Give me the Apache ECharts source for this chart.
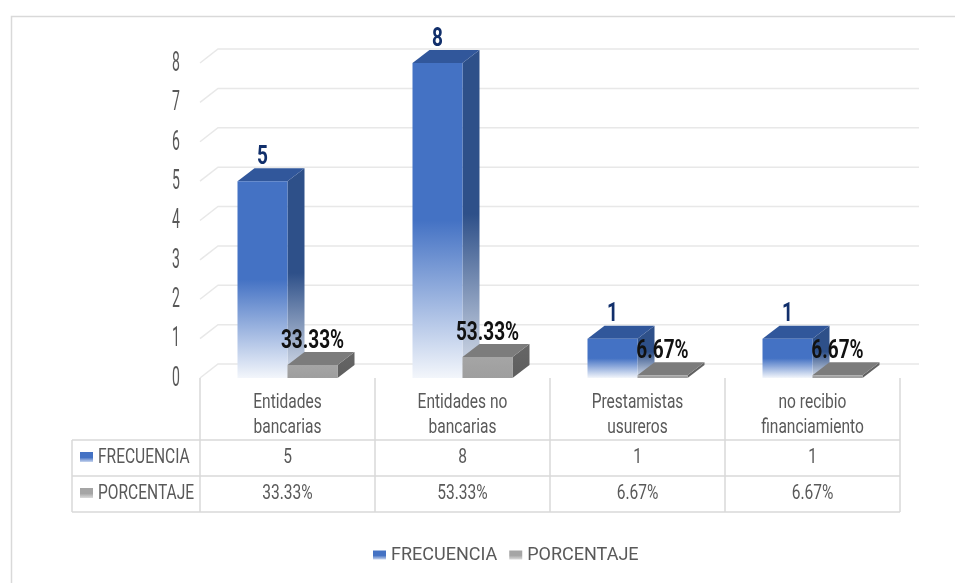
<!DOCTYPE html>
<html>
<head>
<meta charset="utf-8">
<script src="https://cdn.jsdelivr.net/npm/echarts@6/dist/echarts.min.js"></script>
<style>
  html, body { margin: 0; padding: 0; background: #ffffff; }
  #chart { width: 955px; height: 583px; }
</style>
</head>
<body>
<div id="chart"></div>
<script>
// Financing sources: frequency and share of respondents
const categories = ['Entidades bancarias', 'Entidades no bancarias', 'Prestamistas usureros', 'no recibio financiamiento'];
const frecuencia = [5, 8, 1, 1];
const porcentaje = [0.3333, 0.5333, 0.0667, 0.0667];
const seriesNames = ['FRECUENCIA', 'PORCENTAJE'];
const yTicks = [0, 1, 2, 3, 4, 5, 6, 7, 8];

const FONT = "Roboto,'Liberation Sans',sans-serif";
const TEXT = '#595959';
const LINE = '#D9D9D9';
const GRID_LINE = '#E8E8E8';
const DEPTH = [17, -13];     // extrusion of each column
const WALL = [18, -14];      // offset of the back wall
const BAR_RATIO = 50 / 175;  // column width as a share of the category band
const NARROW = 0.74;         // horizontal squeeze for the condensed lettering

const pct = v => (v * 100).toFixed(2) + '%';
const grad = stops => new echarts.graphic.LinearGradient(0, 0, 0, 1,
  stops.map(([offset, color]) => ({ offset, color })));
// two-line category captions, split at the last space
const wrap = s => { const k = s.lastIndexOf(' '); return k < 0 ? s : s.slice(0, k) + '\n' + s.slice(k + 1); };

const look = {
  FRECUENCIA: {
    front: [[0, '#4472C4'], [0.5, '#4472C4'], [1, '#F3F6FB']],
    side: [[0, '#2E5089'], [0.5, '#2E5089'], [1, '#DDE3ED']],
    top: '#31579B',
    label: '#112F6B',
    key: [[0, '#4472C4'], [0.55, '#4472C4'], [1, '#C8D5EE']],
    fmt: v => String(v)
  },
  PORCENTAJE: {
    front: [[0, '#A5A5A5'], [1, '#9E9E9E']],
    side: [[0, '#666666'], [1, '#5E5E5E']],
    top: '#7C7C7C',
    label: '#111111',
    key: [[0, '#A5A5A5'], [0.55, '#A5A5A5'], [1, '#DADADA']],
    fmt: pct
  }
};

const txt = (x, y, s, extra, sx) => ({
  type: 'text', x, y, scaleX: sx || NARROW,
  style: Object.assign({ text: s, fill: TEXT, font: `21px ${FONT}`, align: 'center', verticalAlign: 'middle', lineHeight: 25 }, extra || {})
});
const line = pts => ({ type: 'polyline', shape: { points: pts }, style: { stroke: LINE, lineWidth: 1.5, fill: null } });

// 3D-looking column: side face, top face, front face and value label
function boxRenderer(name, slot) {
  const p = look[name];
  return function (params, api) {
    const idx = api.value(0), val = api.value(1);
    const base = api.coord([idx, 0]);
    const topPt = api.coord([idx, val]);
    const band = api.size([1, 0])[0];
    const w = band * BAR_RATIO;
    const x0 = base[0] + (slot === 0 ? -w : 0);
    const x1 = x0 + w;
    const yb = base[1], yt = topPt[1];
    const dx = DEPTH[0], dy = DEPTH[1];
    return {
      type: 'group',
      children: [
        { type: 'polygon', shape: { points: [[x1, yt], [x1 + dx, yt + dy], [x1 + dx, yb + dy], [x1, yb]] }, style: { fill: grad(p.side) } },
        { type: 'polygon', shape: { points: [[x0, yt], [x0 + dx, yt + dy], [x1 + dx, yt + dy], [x1, yt]] }, style: { fill: p.top } },
        { type: 'rect', shape: { x: x0, y: yt, width: w, height: yb - yt }, style: { fill: grad(p.front) } },
        txt((x0 + x1) / 2, yt - 11, p.fmt(val), { fill: p.label, font: `bold 25px ${FONT}`, verticalAlign: 'bottom', lineHeight: 25 }, 0.76)
      ]
    };
  };
}

// Gridlines bent onto the side wall and back wall, with the value ticks
function gridRenderer(params, api) {
  const cs = params.coordSys;
  const v = api.value(1);
  const y = api.coord([0, v])[1];
  const xl = cs.x, xr = cs.x + cs.width;
  return {
    type: 'group',
    children: [
      {
        type: 'polyline',
        shape: { points: [[xl, y], [xl + WALL[0], y + WALL[1]], [xr + WALL[0] + 1, y + WALL[1]]] },
        style: { stroke: GRID_LINE, lineWidth: 1.5, fill: null }
      },
      txt(xl - 20, y + 1, String(v), { font: `27px ${FONT}`, align: 'right', lineHeight: 28 }, 0.52)
    ]
  };
}

// Data table under the plot
function tableRenderer(params, api) {
  const i = api.value(0);
  const band = api.size([1, 0])[0];
  const pt = api.coord([i, 0]);
  const cx = pt[0], y0 = pt[1];
  const xl = cx - band / 2, xr = cx + band / 2;
  const r1 = y0 + 62, r2 = r1 + 36, r3 = r2 + 36;
  const ch = [
    line([[xl, y0], [xl, r3]]),
    line([[xl, r1], [xr, r1]]), line([[xl, r2], [xr, r2]]), line([[xl, r3], [xr, r3]]),
    txt(cx, (y0 + r1) / 2 + 6, wrap(categories[i])),
    txt(cx, (r1 + r2) / 2, String(frecuencia[i])),
    txt(cx, (r2 + r3) / 2, pct(porcentaje[i]))
  ];
  if (i === categories.length - 1) ch.push(line([[xr, y0], [xr, r3]]));
  if (i === 0) {
    const hx = xl - 128;
    ch.push(line([[hx, r1], [xl, r1]]), line([[hx, r2], [xl, r2]]), line([[hx, r3], [xl, r3]]), line([[hx, r1], [hx, r3]]));
    seriesNames.forEach((n, k) => {
      const yc = (k === 0 ? (r1 + r2) / 2 : (r2 + r3) / 2);
      ch.push({ type: 'rect', shape: { x: hx + 8, y: yc - 6, width: 13, height: 10 }, style: { fill: grad(look[n].key) } });
      ch.push(txt(hx + 26, yc, n, { align: 'left' }));
    });
  }
  return { type: 'group', children: ch };
}

const chart = echarts.init(document.getElementById('chart'), null, { renderer: 'canvas' });

chart.setOption({
  animation: false,
  backgroundColor: '#ffffff',
  graphic: [{
    type: 'rect', left: 9, top: 14, silent: true,
    shape: { x: 0, y: 0, width: 960, height: 600 },
    style: { fill: null, stroke: '#D9D9D9', lineWidth: 1.5 }
  }],
  grid: { left: 200, right: 55, top: 63, bottom: 205, outerBoundsMode: 'none' },
  legend: {
    data: seriesNames.map(n => ({ name: n, icon: 'rect' })),
    left: 368, top: 541,
    itemWidth: 13, itemHeight: 9, itemGap: 12,
    textStyle: { fontFamily: FONT, fontSize: 18, color: TEXT }
  },
  xAxis: {
    type: 'category',
    data: categories,
    axisLine: { show: false },
    axisTick: { show: false },
    axisLabel: { show: false }
  },
  yAxis: {
    type: 'value', min: 0, max: 8, interval: 1,
    axisLine: { show: false },
    axisTick: { show: false },
    splitLine: { show: false },
    axisLabel: { show: false }
  },
  series: [
    {
      type: 'custom', name: '_grid', z: 1, silent: true,
      renderItem: gridRenderer,
      data: yTicks.map(v => [0, v])
    },
    {
      type: 'custom', name: '_table', z: 1, silent: true,
      renderItem: tableRenderer,
      data: categories.map((c, i) => [i, 0])
    },
    {
      type: 'custom', name: seriesNames[0], z: 2,
      itemStyle: { color: grad(look.FRECUENCIA.key) },
      renderItem: boxRenderer('FRECUENCIA', 0),
      data: frecuencia.map((v, i) => [i, v])
    },
    {
      type: 'custom', name: seriesNames[1], z: 3,
      itemStyle: { color: grad(look.PORCENTAJE.key) },
      renderItem: boxRenderer('PORCENTAJE', 1),
      data: porcentaje.map((v, i) => [i, v])
    }
  ]
});
</script>
</body>
</html>
